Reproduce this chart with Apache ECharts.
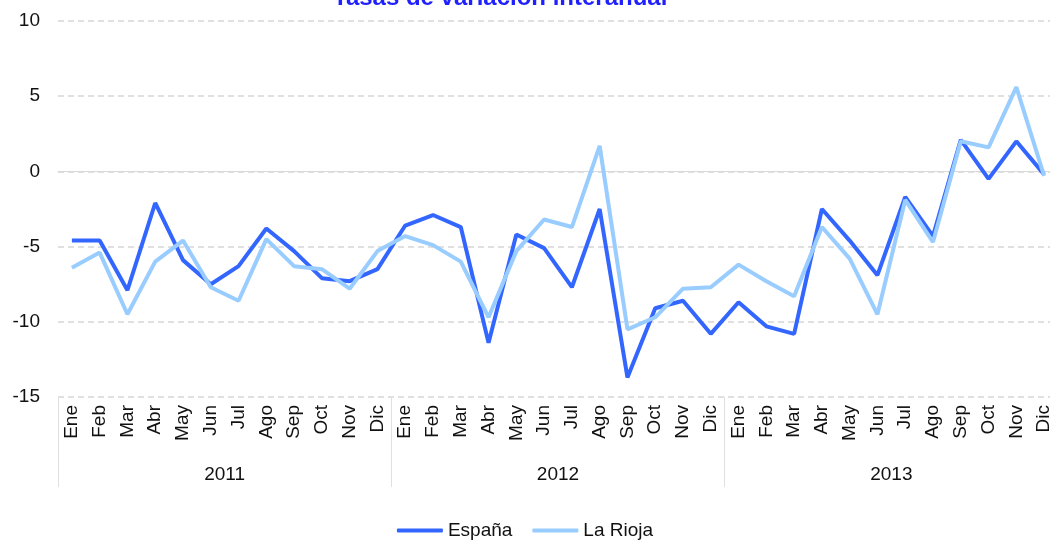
<!DOCTYPE html>
<html lang="es">
<head>
    <meta charset="UTF-8">
    <title>Tasas de variación interanual</title>
    <script src="https://cdn.jsdelivr.net/npm/echarts@6/dist/echarts.min.js"></script>
</head>
<body style="margin:0;background:#fff">
<div id="chart" style="width:1050px;height:541px"></div>
<script>
    var meses = ['Ene', 'Feb', 'Mar', 'Abr', 'May', 'Jun', 'Jul', 'Ago', 'Sep', 'Oct', 'Nov', 'Dic'];
    var years = ['2011', '2012', '2013'];
    var categories = [];
    years.forEach(function () { categories = categories.concat(meses); });

    var espana = [-4.6, -4.6, -7.9, -2.1, -5.9, -7.5, -6.3, -3.8, -5.3, -7.1, -7.3, -6.5,
        -3.6, -2.9, -3.7, -11.4, -4.2, -5.1, -7.7, -2.5, -13.7, -9.1, -8.6, -10.8,
        -8.7, -10.3, -10.8, -2.5, -4.6, -6.9, -1.7, -4.3, 2.1, -0.5, 2.0, -0.2];
    var laRioja = [-6.4, -5.4, -9.5, -6.0, -4.6, -7.7, -8.6, -4.5, -6.3, -6.5, -7.8, -5.3,
        -4.3, -4.9, -6.0, -9.7, -5.3, -3.2, -3.7, 1.7, -10.5, -9.7, -7.8, -7.7,
        -6.2, -7.3, -8.3, -3.7, -5.8, -9.5, -1.9, -4.7, 2.0, 1.6, 5.6, -0.3];

    var font = '"Liberation Sans", Arial, sans-serif';
    var chart = echarts.init(document.getElementById('chart'));

    var option = {
        animation: false,
        title: {
            text: 'Tasas de variación interanual',
            left: 328,
            top: -19,
            textStyle: {color: '#1f1fff', fontSize: 24, fontWeight: 'bold', fontFamily: font}
        },
        legend: {
            bottom: -4,
            left: 'center',
            itemWidth: 46,
            itemHeight: 4,
            itemGap: 20,
            icon: 'roundRect',
            textStyle: {fontSize: 19, color: '#111', fontFamily: font},
            data: ['España', 'La Rioja']
        },
        // the plot runs a little past the right edge, as in the original
        grid: {left: 58, width: 1000, top: 21, bottom: 144, outerBoundsMode: 'none', containLabel: false},
        xAxis: [
            {
                type: 'category',
                data: categories,
                position: 'bottom',
                boundaryGap: true,
                axisLine: {lineStyle: {color: '#d9d9d9', width: 1}},
                axisTick: {show: false},
                axisLabel: {rotate: 90, interval: 0, margin: 8, fontSize: 19, color: '#111', fontFamily: font}
            },
            {
                type: 'category',
                data: years,
                position: 'bottom',
                offset: 0,
                boundaryGap: true,
                axisLine: {show: false},
                axisTick: {show: true, length: 90, interval: 0, lineStyle: {color: '#e0e0e0'}},
                axisLabel: {margin: 68, fontSize: 19, color: '#111', fontFamily: font}
            }
        ],
        yAxis: {
            type: 'value',
            min: -15,
            max: 10,
            interval: 5,
            axisLine: {show: false},
            axisTick: {show: false},
            axisLabel: {margin: 18, fontSize: 19, color: '#111', fontFamily: font},
            splitLine: {lineStyle: {color: '#d6d6d6', type: [6, 4], width: 1.5}}
        },
        series: [
            {
                name: 'España',
                type: 'line',
                xAxisIndex: 0,
                data: espana,
                symbol: 'none',
                color: '#3366ff',
                lineStyle: {width: 4, color: '#3366ff'}
            },
            {
                name: 'La Rioja',
                type: 'line',
                xAxisIndex: 0,
                data: laRioja,
                symbol: 'none',
                color: '#99ccff',
                lineStyle: {width: 4, color: '#99ccff'}
            }
        ]
    };
    chart.setOption(option);
</script>
</body>
</html>
